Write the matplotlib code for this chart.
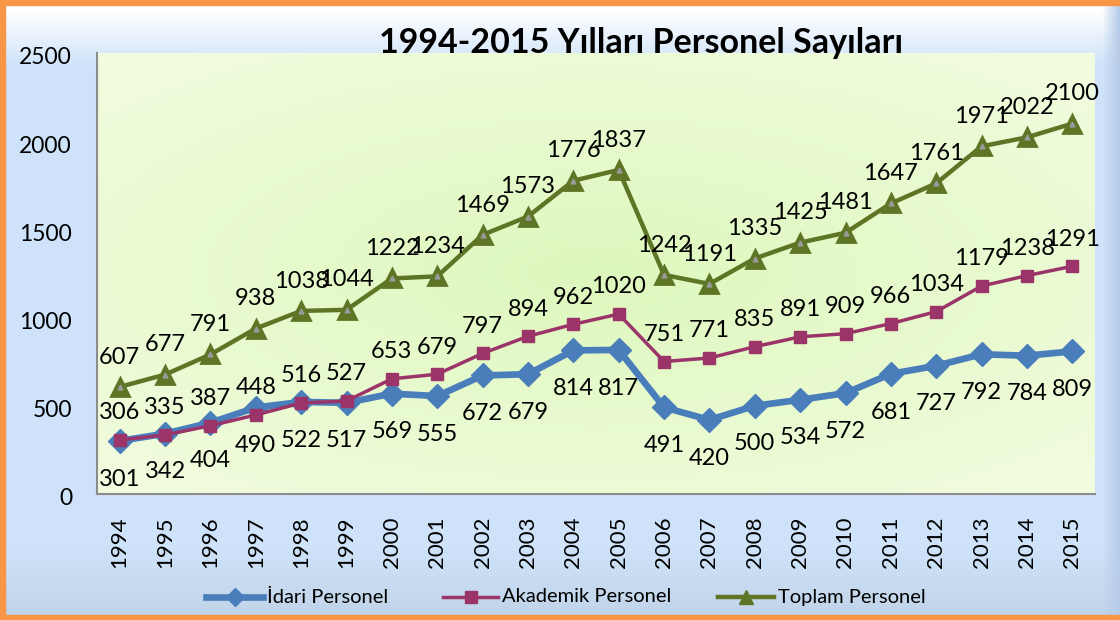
import numpy as np
import matplotlib
matplotlib.use("Agg")
import matplotlib.pyplot as plt
from matplotlib.patches import Rectangle
from matplotlib.lines import Line2D

plt.rcParams['font.family'] = ['Lato', 'DejaVu Sans']

years = ['1994', '1995', '1996', '1997', '1998', '1999', '2000', '2001', '2002', '2003', '2004',
         '2005', '2006', '2007', '2008', '2009', '2010', '2011', '2012', '2013', '2014', '2015']
idari = [301, 342, 404, 490, 522, 517, 569, 555, 672, 679, 814, 817, 491, 420, 500, 534, 572, 681, 727, 792, 784, 809]
akademik = [306, 335, 387, 448, 516, 527, 653, 679, 797, 894, 962, 1020, 751, 771, 835, 891, 909, 966, 1034, 1179, 1238, 1291]
toplam = [607, 677, 791, 938, 1038, 1044, 1222, 1234, 1469, 1573, 1776, 1837, 1242, 1191, 1335, 1425, 1481, 1647, 1761, 1971, 2022, 2100]
yticks = [0, 500, 1000, 1500, 2000, 2500]

title = '1994-2015 Yılları Personel Sayıları'
names = ['İdari Personel', 'Akademik Personel', 'Toplam Personel']

W, H = 1120, 620
fig = plt.figure(figsize=(W / 100, H / 100), dpi=100)

# ---- outer background (blue gradient panel) ----
bg = fig.add_axes([0, 0, 1, 1], zorder=-10)
bg.set_axis_off()
ny, nx = 310, 560
yy = np.linspace(0, 1, ny)[:, None]   # 0 top -> 1 bottom
xx = np.linspace(0, 1, nx)[None, :]
base = np.array([0.81, 0.89, 0.98])
white = np.array([1.0, 1.0, 1.0])
t = np.clip((yy - 0.015) / 0.09, 0, 1)
img = white * (1 - t[..., None]) + base * t[..., None]
img = np.broadcast_to(img, (ny, nx, 3)).copy()
dark = np.clip((yy - 0.88) / 0.12, 0, 1)[..., None]
img = img * (1 - 0.07 * dark)
rb = np.clip((xx - 0.985) / 0.015, 0, 1)
rb = np.broadcast_to(rb, (ny, nx))[..., None]
img = img * (1 - rb) + np.array([0.72, 0.80, 0.91]) * rb
bg.imshow(img, extent=[0, 1, 0, 1], aspect='auto', transform=bg.transAxes)
bg.set_xlim(0, 1)
bg.set_ylim(0, 1)
bw = 5
bg.add_patch(Rectangle((0, 1 - bw / H), 1, bw / H, color='#F79646', transform=bg.transAxes))
bg.add_patch(Rectangle((0, 0), 1, bw / H, color='#F79646', transform=bg.transAxes))
bg.add_patch(Rectangle((0, 0), bw / W, 1, color='#F79646', transform=bg.transAxes))

# ---- plot axes ----
L, R, T, B = 97, 1095, 53, 494
ax = fig.add_axes([L / W, 1 - B / H, (R - L) / W, (B - T) / H])
x = np.arange(len(years))

gy = np.linspace(-1, 1, 200)[:, None]
gx = np.linspace(-1, 1, 400)[None, :]
r = np.sqrt((gx * 0.9) ** 2 + gy ** 2) / 1.35
r = np.clip(r, 0, 1)
c_in = np.array([0.87, 0.97, 0.74])
c_out = np.array([0.95, 0.99, 0.88])
pimg = c_in * (1 - r[..., None]) + c_out * r[..., None]
ax.imshow(pimg, extent=[0, 1, 0, 1], aspect='auto', transform=ax.transAxes, zorder=0)

blue = '#4A7EBB'
maroon = '#9B3468'
green = '#5E7526'

ax.plot(x, idari, color=blue, lw=4.8, marker='D', ms=12, mfc=blue, mec=blue, zorder=3)
ax.plot(x, akademik, color=maroon, lw=2.5, marker='s', ms=8, mfc=maroon, mec=maroon, zorder=4)
ax.plot(x, toplam, color=green, lw=3.2, marker='^', ms=13, mfc=green, mec=green, mew=2, zorder=5)
ax.plot(x, toplam, ls='none', marker='^', ms=3.5, mfc='#9a9a9a', mec='#9a9a9a', zorder=6)

fs_lab = 17
for i in x:
    ax.annotate(str(toplam[i]), (i, toplam[i]), xytext=(0, 21.5), textcoords='offset points',
                ha='center', va='center', fontsize=fs_lab, color='black', zorder=7)
    ax.annotate(str(akademik[i]), (i, akademik[i]), xytext=(0, 19.5), textcoords='offset points',
                ha='center', va='center', fontsize=fs_lab, color='black', zorder=7)
    ax.annotate(str(idari[i]), (i, idari[i]), xytext=(0, -27.5), textcoords='offset points',
                ha='center', va='center', fontsize=fs_lab, color='black', zorder=7)

ax.set_xlim(-0.5, len(years) - 0.5)
ax.set_ylim(0, 2500)
ax.set_xticks(x)
ax.set_xticklabels(years, rotation=90, fontsize=16)
ax.set_yticks(yticks)
ax.set_yticklabels([])
ax.tick_params(length=0)
ax.tick_params(axis='x', pad=16)
# y tick labels drawn as annotations so they sit slightly below each value, as in the original
for v in yticks:
    ax.annotate(str(v), (0, v), xycoords=ax.get_yaxis_transform(), xytext=(-18, -3.5),
                textcoords='offset points', ha='right', va='center', fontsize=16.5,
                annotation_clip=False)
for s in ['top', 'right']:
    ax.spines[s].set_visible(False)
for s in ['left', 'bottom']:
    ax.spines[s].set_color('#8c8c8c')
    ax.spines[s].set_linewidth(1.5)
ax.set_facecolor('none')

fig.text(641 / W, 1 - 43 / H, title, ha='center', va='center', fontsize=24.5, fontweight='bold')

# ---- legend (drawn manually to match the original positions) ----
leg_y = 1 - 597 / H
leg_items = [
    (206, 263, blue, 4.8, 'D', 9, names[0]),
    (443, 498, maroon, 2.5, 's', 8, names[1]),
    (718, 774, green, 3.2, '^', 10, names[2]),
]
for x0, x1, col, lw, mk, ms, name in leg_items:
    fig.add_artist(Line2D([x0 / W, x1 / W], [leg_y, leg_y], color=col, lw=lw,
                          transform=fig.transFigure))
    fig.add_artist(Line2D([(x0 + x1) / 2 / W], [leg_y], color=col, marker=mk, ms=ms,
                          mfc=col, mec=col, ls='none', transform=fig.transFigure))
    fig.text((x1 + 4) / W, leg_y, name, ha='left', va='center', fontsize=14.5)

fig.savefig('out.png', dpi=100)
